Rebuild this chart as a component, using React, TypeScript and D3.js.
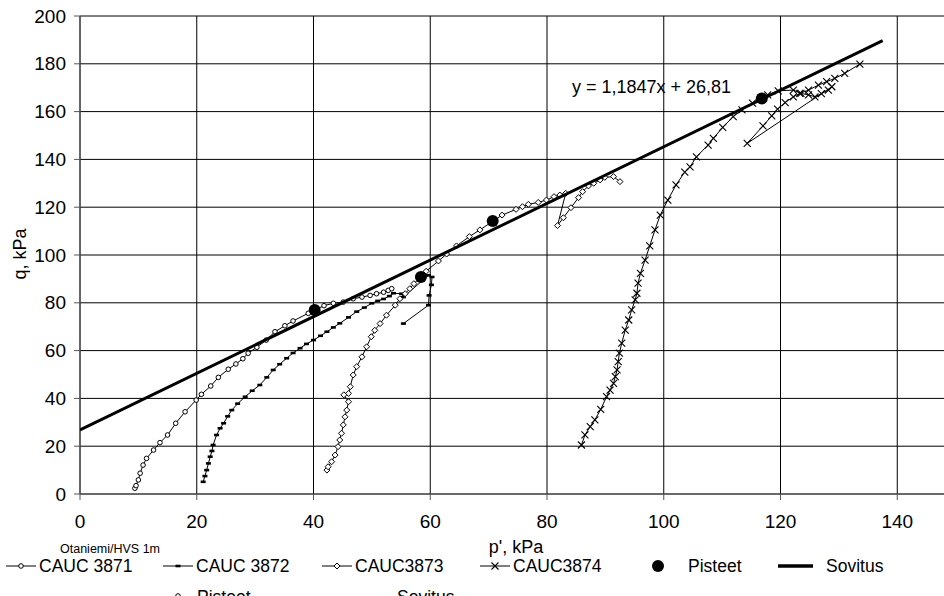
import React from "react";
import * as d3 from "d3";

type P = [number, number];

const xTicks = [0, 20, 40, 60, 80, 100, 120, 140];
const yTicks = [0, 20, 40, 60, 80, 100, 120, 140, 160, 180, 200];

const cauc3871: P[] = [
  [9.4, 2.4], [9.6, 3.5], [10.0, 5.9], [10.3, 8.7], [10.8, 12.1], [11.4, 14.9], [12.6, 18.4], [13.7, 21.5],
  [15.0, 24.7], [16.4, 29.6], [18.0, 34.4], [19.9, 39.3], [20.8, 41.7], [22.4, 45.2], [23.7, 48.8], [25.4, 52.2],
  [26.7, 54.4], [27.9, 56.6], [28.8, 58.9], [30.3, 61.4], [31.9, 64.4], [33.4, 67.9], [35.1, 70.4], [36.5, 72.4],
  [39.1, 75.6], [41.8, 78.8], [43.4, 79.8], [45.1, 80.3], [46.8, 81.7], [48.3, 82.4], [49.7, 83.1], [50.8, 83.8],
  [52.0, 84.4], [52.8, 85.2], [53.4, 85.9],
];

const cauc3872: P[] = [
  [21.1, 5.1], [21.4, 7.5], [21.7, 10.0], [22.0, 12.8], [22.3, 15.6], [22.6, 18.0], [22.8, 20.5], [23.4, 24.7],
  [24.0, 27.5], [24.6, 29.6], [25.3, 32.5], [26.0, 35.1], [27.0, 37.8], [28.3, 40.7], [29.5, 43.2], [30.8, 45.6],
  [32.0, 48.8], [33.1, 51.9], [34.2, 54.3], [35.4, 56.8], [36.5, 59.0], [37.7, 61.0], [38.8, 62.8], [40.0, 64.4],
  [41.2, 66.2], [42.3, 67.9], [43.4, 69.7], [44.5, 71.4], [46.0, 73.9], [47.4, 76.3], [48.7, 78.0], [50.0, 79.8],
  [51.0, 80.8], [52.0, 81.6], [53.0, 82.8], [53.7, 84.0], [55.1, 83.8], [55.4, 82.4], [59.7, 91.5], [60.3, 90.8],
  [60.2, 87.5], [59.8, 83.1], [59.7, 79.0], [55.4, 71.3],
];

const cauc3873: P[] = [
  [42.3, 10.0], [42.5, 11.4], [43.1, 13.5], [43.7, 16.3], [44.2, 19.8], [44.5, 22.6], [44.8, 25.4], [45.1, 28.9],
  [45.4, 32.3], [45.7, 35.1], [46.0, 38.6], [45.2, 41.5], [46.0, 42.1], [46.3, 44.9], [46.8, 49.8], [47.4, 53.3],
  [48.3, 57.4], [49.1, 61.6], [49.9, 65.8], [50.5, 68.5], [51.4, 71.3], [52.5, 74.8], [54.0, 79.0], [54.8, 81.7],
  [55.7, 83.8], [56.5, 85.9], [57.2, 88.0], [59.3, 93.2], [61.4, 97.5], [62.8, 100.4], [64.5, 103.8], [66.7, 107.7],
  [68.5, 110.5], [72.3, 116.7], [74.7, 119.1], [75.8, 120.2], [76.8, 121.2], [78.5, 122.0], [79.9, 123.0],
  [81.2, 124.4], [82.2, 125.1], [83.2, 125.8], [81.8, 112.3], [82.8, 115.6], [84.1, 119.8], [85.4, 124.0],
  [86.1, 126.5], [87.1, 128.9], [88.0, 130.0], [89.1, 131.4], [89.9, 132.5], [91.4, 132.8], [92.5, 130.7],
];

const cauc3874: P[] = [
  [85.9, 20.5], [86.5, 24.7], [87.4, 28.2], [88.2, 31.0], [89.2, 35.4], [90.2, 40.7], [90.8, 43.5], [91.4, 46.3],
  [91.7, 49.1], [92.0, 51.9], [92.2, 55.4], [92.4, 58.9], [92.8, 63.1], [93.4, 68.6], [94.0, 72.8], [94.5, 77.0],
  [95.1, 81.2], [95.4, 84.0], [95.6, 88.2], [96.0, 92.3], [96.8, 97.9], [97.6, 103.8], [98.5, 110.5], [99.4, 116.7],
  [100.7, 123.0], [102.1, 129.3], [103.6, 134.7], [104.5, 136.9], [105.6, 141.1], [107.6, 146.0], [108.5, 148.8],
  [110.1, 153.4], [111.9, 157.9], [113.4, 160.7], [115.2, 163.5], [117.8, 167.0], [119.6, 168.7], [122.2, 169.0],
  [123.5, 167.6], [124.8, 167.0], [125.9, 166.2], [127.0, 167.5], [128.2, 169.0], [128.8, 170.4], [114.3, 146.7],
  [117.0, 154.0], [118.5, 158.2], [119.5, 161.0], [120.8, 163.8], [122.2, 166.2], [123.3, 167.6], [124.8, 169.0],
  [126.5, 171.1], [127.9, 172.5], [129.3, 173.9], [131.0, 176.0], [133.6, 179.9],
];

const pisteet: P[] = [[40.2, 77.0], [58.4, 90.8], [70.7, 114.2], [116.8, 165.5]];

const fitSlope = 1.1847;
const fitIntercept = 26.81;
const fitRange: [number, number] = [0, 137.5];
const fitLabel = "y = 1,1847x + 26,81";

const legendNames = ["CAUC 3871", "CAUC 3872", "CAUC3873", "CAUC3874", "Pisteet", "Sovitus"];
const overflowNames = ["Pisteet", "Sovitus"];

const FONT = "'Liberation Sans', Arial, sans-serif";

function Marker({ kind, x, y }: { kind: string; x: number; y: number }) {
  if (kind === "circle")
    return <circle cx={x} cy={y} r={2.3} fill="white" stroke="black" strokeWidth={1} />;
  if (kind === "dash")
    return <rect x={x - 2.5} y={y - 1.3} width={5} height={2.6} fill="black" />;
  if (kind === "diamond")
    return (
      <path d={`M${x},${y - 3}L${x + 3},${y}L${x},${y + 3}L${x - 3},${y}Z`} fill="white" stroke="black" strokeWidth={1} />
    );
  if (kind === "x")
    return (
      <path d={`M${x - 3.5},${y - 3.5}L${x + 3.5},${y + 3.5}M${x - 3.5},${y + 3.5}L${x + 3.5},${y - 3.5}`} stroke="black" strokeWidth={1.1} />
    );
  return null;
}

export default function App() {
  const W = 944;
  const H = 596;
  const x = d3.scaleLinear().domain([0, 150]).range([80, 80 + 150 * 5.8375]);
  const y = d3.scaleLinear().domain([0, 200]).range([494, 16]);
  const line = d3.line<P>().x((d) => x(d[0])).y((d) => y(d[1]));

  const series: { data: P[]; kind: string }[] = [
    { data: cauc3871, kind: "circle" },
    { data: cauc3872, kind: "dash" },
    { data: cauc3873, kind: "diamond" },
    { data: cauc3874, kind: "x" },
  ];

  const fitPts: P[] = fitRange.map((v) => [v, fitSlope * v + fitIntercept] as P);
  const legendX = [6, 163, 322, 480, 640, 778];
  const legendY = 566;

  return (
    <svg width={W} height={H} style={{ position: "absolute", left: 0, top: 0, background: "white" }} fontFamily={FONT}>
      <defs>
        <clipPath id="plot">
          <rect x={80} y={16} width={W - 80} height={478} />
        </clipPath>
      </defs>
      {yTicks.map((t) => (
        <line key={"gy" + t} x1={80} x2={W} y1={y(t)} y2={y(t)} stroke="#000" strokeWidth={1} />
      ))}
      {xTicks.map((t) => (
        <line key={"gx" + t} x1={x(t)} x2={x(t)} y1={16} y2={494} stroke="#000" strokeWidth={1} />
      ))}
      <line x1={80} x2={80} y1={16} y2={494} stroke="#555" strokeWidth={1.2} />
      <line x1={80} x2={W} y1={494} y2={494} stroke="#555" strokeWidth={1.2} />
      {yTicks.map((t) => (
        <g key={"ty" + t}>
          <line x1={74} x2={80} y1={y(t)} y2={y(t)} stroke="#555" />
          <text x={66} y={y(t)} textAnchor="end" dominantBaseline="central" fontSize={19}>
            {t}
          </text>
        </g>
      ))}
      {xTicks.map((t) => (
        <g key={"tx" + t}>
          <line x1={x(t)} x2={x(t)} y1={494} y2={500} stroke="#555" />
          <text x={x(t)} y={521} textAnchor="middle" dominantBaseline="central" fontSize={19}>
            {t}
          </text>
        </g>
      ))}
      <text transform={`translate(20,254) rotate(-90)`} textAnchor="middle" dominantBaseline="central" fontSize={18}>
        q, kPa
      </text>
      <text x={516} y={547} textAnchor="middle" dominantBaseline="central" fontSize={18}>
        p', kPa
      </text>
      <text x={60} y={549} dominantBaseline="central" fontSize={12.5}>
        Otaniemi/HVS 1m
      </text>

      <g clipPath="url(#plot)">
        {series.map((s, i) => (
          <g key={"s" + i}>
            <path d={line(s.data) || ""} fill="none" stroke="black" strokeWidth={1} />
            {s.data.map((d, j) => (
              <Marker key={j} kind={s.kind} x={x(d[0])} y={y(d[1])} />
            ))}
          </g>
        ))}
        <path d={line(fitPts) || ""} fill="none" stroke="black" strokeWidth={3} />
        {pisteet.map((d, j) => (
          <circle key={"p" + j} cx={x(d[0])} cy={y(d[1])} r={6} fill="black" />
        ))}
      </g>
      <text x={572} y={87} dominantBaseline="central" fontSize={18}>
        {fitLabel}
      </text>

      {legendNames.map((n, i) => {
        const lx = legendX[i];
        const kinds = ["circle", "dash", "diamond", "x"];
        return (
          <g key={"l" + i}>
            {i < 4 && (
              <>
                <line x1={lx} x2={lx + 30} y1={legendY} y2={legendY} stroke="black" strokeWidth={1} />
                <Marker kind={kinds[i]} x={lx + 15} y={legendY} />
              </>
            )}
            {i === 4 && <circle cx={lx + 18} cy={legendY} r={6} fill="black" />}
            {i === 5 && <line x1={lx} x2={lx + 35} y1={legendY} y2={legendY} stroke="black" strokeWidth={3.5} />}
            <text x={lx + (i >= 4 ? 48 : 33)} y={legendY} dominantBaseline="central" fontSize={17.5}>
              {n}
            </text>
          </g>
        );
      })}
      <circle cx={178} cy={596} r={2.3} fill="white" stroke="black" />
      <text x={197} y={603} fontSize={17.5}>
        {overflowNames[0]}
      </text>
      <text x={397} y={603} fontSize={17.5}>
        {overflowNames[1]}
      </text>
    </svg>
  );
}
